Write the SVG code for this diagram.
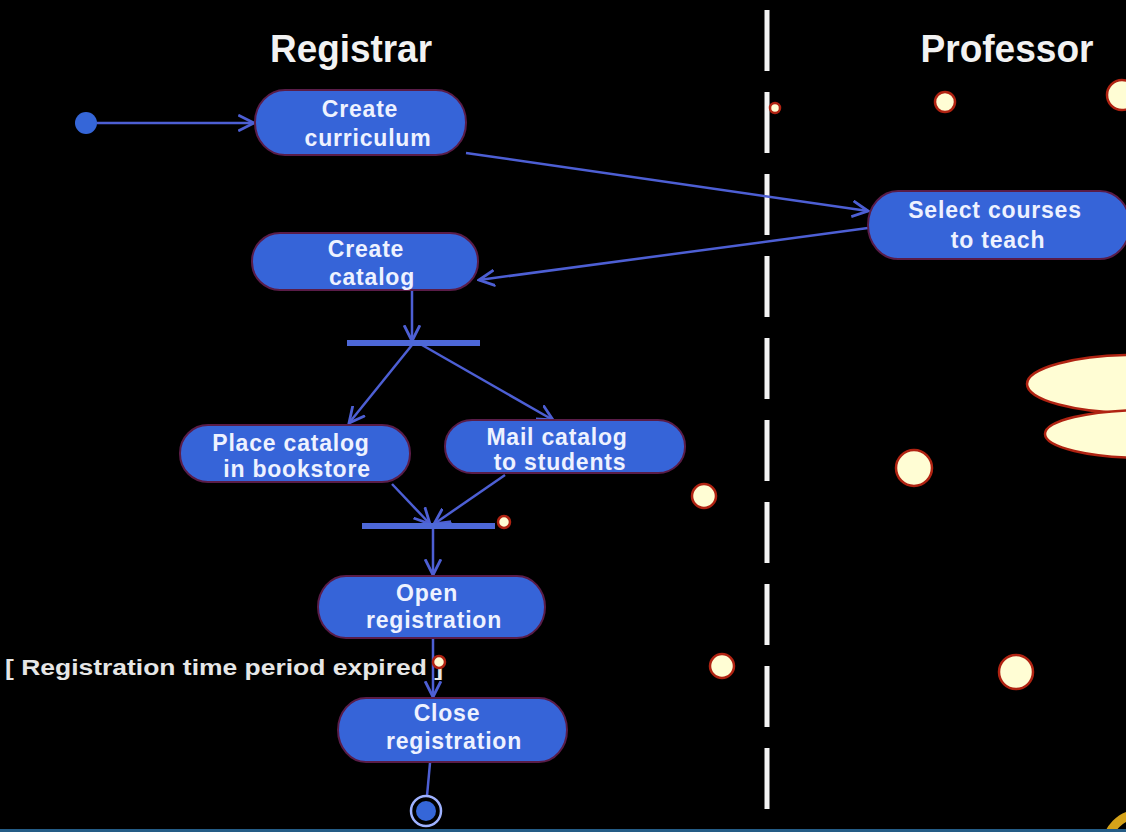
<svg xmlns="http://www.w3.org/2000/svg" width="1126" height="832" viewBox="0 0 1126 832">
<defs>
<style>
.bg{fill:#000}
.lane{font-family:"Liberation Sans",Arial,sans-serif;font-weight:bold;font-size:38px;fill:#f2f2f2;text-anchor:middle}
.act{fill:#3664d8;stroke:#5a1c48;stroke-width:2}
.lbl{font-family:"Liberation Sans",Arial,sans-serif;font-weight:bold;font-size:23px;fill:#eef2ff;text-anchor:middle;letter-spacing:0.8px}
.guard{font-family:"Liberation Sans",Arial,sans-serif;font-weight:bold;font-size:22px;fill:#e6e6e6}
.edge{stroke:#4d5fd4;stroke-width:2.5;fill:none}
.bar{fill:#4d68d8}
.dot{fill:#fffdd4;stroke:#b02312;stroke-width:2.5}
.sep{stroke:#f4f4f4;stroke-width:5;stroke-dasharray:61 21}
</style>
<marker id="arr" markerUnits="userSpaceOnUse" markerWidth="18" markerHeight="18" refX="14" refY="7" orient="auto" viewBox="0 0 16 14">
<path d="M0,0 L14,7 L0,14" fill="none" stroke="#4d5fd4" stroke-width="2.5"/>
</marker>
</defs>
<rect class="bg" x="0" y="0" width="1126" height="832"/>

<g id="swimlanes">
<line class="sep" x1="767" y1="10" x2="767" y2="812"/>
<text class="lane" x="351" y="62" textLength="162" lengthAdjust="spacingAndGlyphs">Registrar</text>
<text class="lane" x="1007" y="62" textLength="173" lengthAdjust="spacingAndGlyphs">Professor</text>
</g>

<g id="connectors">
<line class="edge" x1="97" y1="123" x2="254" y2="123" marker-end="url(#arr)"/>
<line class="edge" x1="466" y1="153" x2="868" y2="211" marker-end="url(#arr)"/>
<line class="edge" x1="868" y1="228" x2="479" y2="280" marker-end="url(#arr)"/>
<line class="edge" x1="412" y1="290" x2="412" y2="341" marker-end="url(#arr)"/>
<line class="edge" x1="412" y1="345" x2="349" y2="423" marker-end="url(#arr)"/>
<line class="edge" x1="422" y1="345" x2="553" y2="420" marker-end="url(#arr)"/>
<line class="edge" x1="392" y1="484" x2="430" y2="524" marker-end="url(#arr)"/>
<line class="edge" x1="505" y1="475" x2="434" y2="524" marker-end="url(#arr)"/>
<line class="edge" x1="433" y1="528" x2="433" y2="575" marker-end="url(#arr)"/>
<line class="edge" x1="433" y1="639" x2="433" y2="697" marker-end="url(#arr)"/>
<line class="edge" x1="430" y1="763" x2="427" y2="796"/>
</g>

<g id="initial"><circle cx="86" cy="123" r="11" fill="#3566d8"/></g>

<g id="fork1"><rect class="bar" x="347" y="340" width="133" height="6"/></g>
<g id="join1"><rect class="bar" x="362" y="523" width="133" height="6"/></g>

<g id="create-curriculum">
<rect class="act" x="255" y="90" width="211" height="65" rx="30" ry="32"/>
<text class="lbl" x="360" y="117">Create</text>
<text class="lbl" x="368" y="146">curriculum</text>
</g>

<g id="create-catalog">
<rect class="act" x="252" y="233" width="226" height="57" rx="28" ry="28"/>
<text class="lbl" x="366" y="257">Create</text>
<text class="lbl" x="372" y="285">catalog</text>
</g>

<g id="select-courses">
<rect class="act" x="868" y="191" width="262" height="68" rx="30" ry="34"/>
<text class="lbl" x="995" y="218">Select courses</text>
<text class="lbl" x="998" y="248">to teach</text>
</g>

<g id="place-catalog">
<rect class="act" x="180" y="425" width="230" height="57" rx="28" ry="28"/>
<text class="lbl" x="291" y="451">Place catalog</text>
<text class="lbl" x="297" y="477">in bookstore</text>
</g>

<g id="mail-catalog">
<rect class="act" x="445" y="420" width="240" height="53" rx="27" ry="26"/>
<text class="lbl" x="557" y="445">Mail catalog</text>
<text class="lbl" x="560" y="470">to students</text>
</g>

<g id="open-registration">
<rect class="act" x="318" y="576" width="227" height="62" rx="28" ry="31"/>
<text class="lbl" x="427" y="601">Open</text>
<text class="lbl" x="434" y="628">registration</text>
</g>

<g id="close-registration">
<rect class="act" x="338" y="698" width="229" height="64" rx="28" ry="32"/>
<text class="lbl" x="447" y="721">Close</text>
<text class="lbl" x="454" y="749">registration</text>
</g>

<g id="guard">
<text class="guard" x="5" y="675" textLength="438" lengthAdjust="spacingAndGlyphs">[ Registration time period expired ]</text>
</g>

<g id="final">
<circle cx="426" cy="811" r="15" fill="none" stroke="#9fb2ff" stroke-width="2.5"/>
<circle cx="426" cy="811" r="10" fill="#3566d8"/>
</g>

<g id="overlay">
<circle class="dot" cx="775" cy="108" r="5"/>
<circle class="dot" cx="945" cy="102" r="10"/>
<circle class="dot" cx="1122" cy="95" r="15"/>
<ellipse class="dot" cx="1135" cy="384" rx="108" ry="29"/>
<ellipse class="dot" cx="1145" cy="434" rx="100" ry="24"/>
<circle class="dot" cx="914" cy="468" r="18"/>
<circle class="dot" cx="704" cy="496" r="12"/>
<circle class="dot" cx="504" cy="522" r="6"/>
<circle class="dot" cx="439" cy="662" r="6"/>
<circle class="dot" cx="722" cy="666" r="12"/>
<circle class="dot" cx="1016" cy="672" r="17"/>
<circle cx="1140" cy="848" r="34" fill="none" stroke="#d4a21a" stroke-width="9"/>
<rect x="0" y="829" width="1126" height="3" fill="#245c86"/>
</g>
</svg>
